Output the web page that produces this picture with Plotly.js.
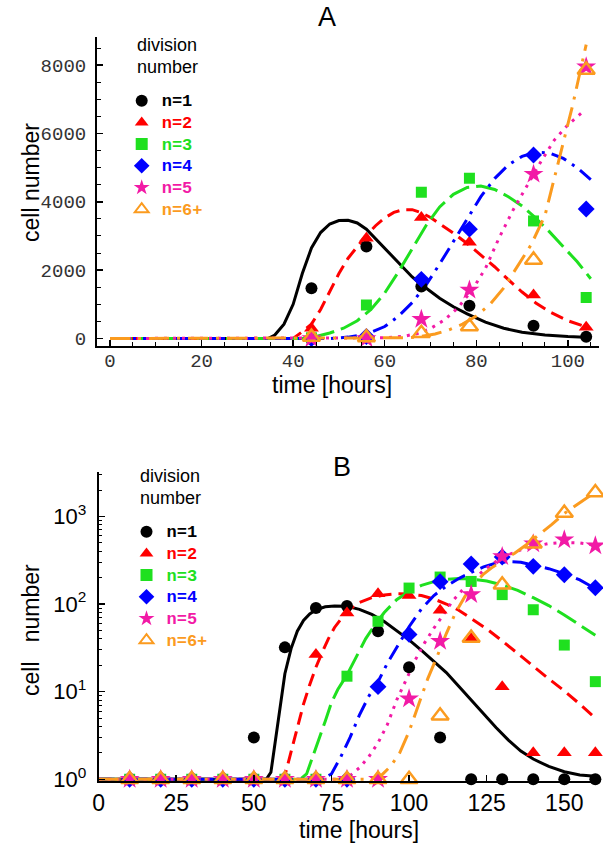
<!DOCTYPE html>
<html>
<head>
<meta charset="utf-8">
<script src="https://cdn.plot.ly/plotly-3.0.1.min.js"></script>
<style>html,body{margin:0;padding:0;background:#fff;}#chart{width:603px;height:845px;}</style>
</head>
<body>
<div id="chart"></div>
<script>
// ---------- Panel A data (linear scale) ----------
const tA = [44, 56, 68, 78.5, 92.5, 104];
const A_n1 = [1470, 2690, 1520, 960, 370, 50];
const A_n2 = [300, 2930, 3540, 2820, 1270, 330];
const A_n3 = [20, 980, 4280, 4690, 3440, 1200];
const A_n4 = [0, 60, 1730, 3200, 5370, 3790];
const A_n5 = [0, 0, 560, 1420, 4810, 7950];
const A_n6 = [40, 30, 150, 350, 2300, 7860];

// Panel A model curves
const mA1_t = [0, 34.5, 36, 38, 40, 42, 44, 46, 48, 50, 52, 54, 56, 58, 60, 62, 64, 66, 68, 70, 72, 75, 78, 82, 86, 90, 95, 100, 105];
const mA1_v = [0, 0, 100, 420, 1000, 1900, 2650, 3100, 3350, 3450, 3460, 3380, 3200, 2920, 2650, 2350, 2080, 1800, 1580, 1380, 1180, 930, 720, 480, 300, 180, 100, 55, 30];
const mA2_t = [0, 40, 42, 44, 46, 48, 50, 52, 54, 56, 58, 60, 62, 64, 66, 68, 70, 72, 75, 78, 81, 84, 87, 90, 93, 96, 100, 105];
const mA2_v = [0, 0, 200, 420, 850, 1380, 1900, 2350, 2700, 3020, 3300, 3530, 3690, 3770, 3770, 3680, 3540, 3360, 3080, 2780, 2440, 2100, 1720, 1360, 1040, 780, 520, 290];
const mA3_t = [0, 42, 45, 48, 51, 54, 57, 60, 63, 66, 69, 72, 75, 78, 81, 84, 87, 90, 93, 96, 99, 102, 105];
const mA3_v = [0, 0, 60, 160, 300, 520, 850, 1330, 1950, 2620, 3300, 3850, 4220, 4420, 4460, 4360, 4150, 3880, 3520, 3120, 2700, 2250, 1750];
const mA4_t = [0, 48, 52, 56, 60, 63, 66, 69, 72, 75, 78, 81, 84, 87, 90, 93, 96, 99, 102, 105];
const mA4_v = [0, 0, 40, 130, 350, 650, 1050, 1560, 2180, 2850, 3520, 4150, 4680, 5080, 5330, 5450, 5430, 5270, 5000, 4650];
const mA5_t = [0, 55, 60, 64, 67, 70, 73, 76, 79, 82, 85, 88, 91, 94, 97, 100, 103];
const mA5_v = [0, 0, 20, 60, 140, 290, 540, 900, 1400, 2050, 2950, 3750, 4450, 5150, 5800, 6250, 6600];
const mA6_t = [0, 60, 65, 68, 71, 74, 77, 80, 83, 86, 89, 92, 95, 98, 101, 104];
const mA6_v = [0, 0, 20, 60, 130, 250, 420, 660, 1000, 1480, 2100, 2750, 3600, 5200, 6800, 8600];

// ---------- Panel B data (log scale) ----------
const tB = [10, 20, 30, 40, 50, 60, 70, 80, 90, 100, 110, 120, 130, 140, 150, 160];
const B_n1 = [1, 1, 1, 1, 3, 32, 90, 95, 49, 19, 3, 1, 1, 1, 1, 1];
const B_n2 = [1, 1, 1, 1, 1, 1, 26.5, 79, 131, 125, 85, 40, 11.4, 2, 2, 2];
const B_n3 = [1, 1, 1, 1, 1, 1, 1, 15, 63.5, 152, 203, 181, 128, 86, 34, 13];
const B_n4 = [1, 1, 1, 1, 1, 1, 1, 1, 11.4, 45, 180, 286, 344, 269, 216, 153];
const B_n5 = [1, 1, 1, 1, 1, 1, 1, 1, 1, 8.3, 37.6, 128, 349, 487, 541, 462];
const B_n6 = [1, 1, 1, 1, 1, 1, 1, 1, 1, 1, 5.3, 41, 166, 487, 1090, 1870];

const mB1_t = [0, 54, 55.5, 57, 58.5, 60, 62, 64, 66, 68, 70, 73, 76, 80, 84, 88, 92, 96, 100, 104, 108, 112, 116, 120, 124, 128, 132, 136, 140, 145, 150, 155, 160];
const mB1_v = [1, 1, 1.2, 2.8, 7.5, 16, 31, 49, 65, 77, 86, 93, 95, 94, 87, 76, 63, 50, 39, 29.5, 22, 16.5, 11.5, 8.1, 5.6, 3.9, 2.8, 2.1, 1.7, 1.4, 1.22, 1.12, 1.08];
const mB2_t = [0, 58, 60, 62, 64, 66, 68, 70, 72, 74, 76, 78, 80, 84, 88, 92, 96, 100, 104, 108, 112, 116, 120, 125, 130, 135, 140, 145, 150, 155, 160];
const mB2_v = [1, 1, 1.1, 2.1, 4, 7.2, 12, 19, 28, 40, 54, 68, 83, 104, 118, 127, 131, 130, 125, 114, 100, 85, 69, 52, 38, 27, 19.5, 14, 10.2, 7.2, 5];
const mB3_t = [0, 65, 67, 69, 71, 73, 75, 77, 80, 83, 86, 89, 92, 96, 100, 104, 108, 112, 116, 120, 125, 130, 135, 140, 145, 150, 155, 160];
const mB3_v = [1, 1, 1.15, 1.8, 2.9, 4.6, 7.5, 10.5, 15.5, 25, 40, 58, 80, 112, 140, 163, 180, 191, 195, 193, 183, 165, 143, 118, 96, 75, 58, 44];
const mB4_t = [0, 72, 75, 78, 81, 84, 87, 90, 93, 96, 100, 104, 108, 112, 116, 120, 124, 128, 132, 136, 140, 145, 150, 155, 160];
const mB4_v = [1, 1, 1.15, 1.8, 3, 5.4, 8.8, 13, 21, 32, 55, 88, 125, 160, 195, 230, 265, 293, 305, 300, 280, 253, 222, 188, 150];
const mB5_t = [0, 78, 81, 84, 87, 90, 93, 96, 99, 102, 105, 108, 111, 114, 117, 120, 124, 128, 132, 136, 140, 145, 150, 155, 160];
const mB5_v = [1, 1, 1.1, 1.35, 1.8, 2.6, 4.2, 8, 13.5, 23, 36, 53, 75, 108, 142, 180, 242, 305, 365, 415, 452, 490, 505, 498, 470];
const mB6_t = [0, 88, 91, 94, 97, 100, 103, 106, 109, 112, 115, 118, 121, 124, 127, 130, 134, 138, 142, 146, 150, 155, 160];
const mB6_v = [1, 1, 1.1, 1.4, 2, 3.5, 7, 14, 25, 46, 80, 122, 170, 220, 265, 310, 380, 480, 620, 810, 1080, 1450, 1900];

// ---------- labels / ticks ----------
const seriesNames = ['n=1', 'n=2', 'n=3', 'n=4', 'n=5', 'n=6+'];
const colors = ['#000000', '#ff0000', '#1fe01f', '#0000ff', '#f21aa6', '#fb9b1f'];
const symbols = ['circle', 'triangle-up', 'square', 'diamond', 'star', 'triangle-up-open'];
const msizes = [12, 13, 11, 13, 15, 15];
const dashes = ['solid', '13px,7px', '22px,7px', '16px,7px,3px,7px', '3px,6px', '20px,8px,3px,8px'];
const A_xtickvals = [0, 20, 40, 60, 80, 100];
const A_ytickvals = [0, 2000, 4000, 6000, 8000];
const B_xtickvals = [0, 25, 50, 75, 100, 125, 150];
const B_ytickvals = [1, 10, 100, 1000];
const B_yticktext = ['10<sup>0</sup>', '10<sup>1</sup>', '10<sup>2</sup>', '10<sup>3</sup>'];
const titleA = 'A', titleB = 'B';
const xTitle = 'time [hours]';
const yTitleA = 'cell number';
const yTitleB = 'cell\u00a0\u00a0\u00a0number';
const legendHead = ['division', 'number'];

const W = 603, H = 845;
const fx = p => p / W;
const fy = p => 1 - p / H;

const markA = [A_n1, A_n2, A_n3, A_n4, A_n5, A_n6];
const curveA = [[mA1_t, mA1_v], [mA2_t, mA2_v], [mA3_t, mA3_v], [mA4_t, mA4_v], [mA5_t, mA5_v], [mA6_t, mA6_v]];
const markB = [B_n1, B_n2, B_n3, B_n4, B_n5, B_n6];
const curveB = [[mB1_t, mB1_v], [mB2_t, mB2_v], [mB3_t, mB3_v], [mB4_t, mB4_v], [mB5_t, mB5_v], [mB6_t, mB6_v]];

const traces = [];
function lineTrace(c, i, xa, ya) {
  return {x: c[0], y: c[1], xaxis: xa, yaxis: ya, type: 'scatter', mode: 'lines',
    line: {color: colors[i], width: 3, dash: dashes[i]}, showlegend: false, hoverinfo: 'skip'};
}
function markTrace(t, v, i, xa, ya, leg) {
  const open = symbols[i].indexOf('open') >= 0;
  return {x: t, y: v, xaxis: xa, yaxis: ya, type: 'scatter', mode: 'markers', cliponaxis: false,
    name: '<span style="font-size:17px;color:' + colors[i] + '"><b>' + seriesNames[i] + '</b></span>',
    legend: leg,
    marker: {symbol: symbols[i], size: msizes[i], color: colors[i],
      line: open ? {color: colors[i], width: 2.5} : {width: 0}}};
}
curveA.forEach((c, i) => traces.push(lineTrace(c, i, 'x', 'y')));
markA.forEach((v, i) => traces.push(markTrace(tA, v, i, 'x', 'y', 'legend')));
curveB.forEach((c, i) => traces.push(lineTrace(c, i, 'x2', 'y2')));
markB.forEach((v, i) => traces.push(markTrace(tB, v, i, 'x2', 'y2', 'legend2')));

const minorLog = [];
for (let d = 1; d <= 1000; d *= 10) for (let k = 2; k <= 9; k++) if (d * k < 3300) minorLog.push(d * k);

const axBase = {showline: true, linecolor: '#000', linewidth: 2, mirror: false, showgrid: false, zeroline: false,
  ticks: 'inside', tickcolor: '#000', tickwidth: 1.5, ticklen: 6, fixedrange: true};

const monoTick = {family: 'Liberation Mono, Courier New, monospace', size: 19, color: '#333'};
const sansTick = {family: 'Liberation Sans, Arial, sans-serif', size: 23, color: '#000'};
const legFont = {family: 'Liberation Mono, Courier New, monospace', size: 14.4, color: '#000'};

const layout = {
  width: W, height: H, margin: {l: 0, r: 0, t: 0, b: 0}, paper_bgcolor: '#fff', plot_bgcolor: '#fff',
  showlegend: true,
  xaxis: Object.assign({}, axBase, {domain: [fx(97), fx(599)], range: [-2.84, 106.8], anchor: 'y',
    tickmode: 'array', tickvals: A_xtickvals, tickfont: monoTick, ticklabelstandoff: -4,
    minor: {ticks: 'inside', dtick: 5, ticklen: 4, tickcolor: '#000', tickwidth: 1}}),
  yaxis: Object.assign({}, axBase, {domain: [fy(346), fy(36.7)], range: [-220, 8832], anchor: 'x',
    tickmode: 'array', tickvals: A_ytickvals, tickfont: monoTick, ticklabelstandoff: 5,
    minor: {ticks: 'inside', dtick: 500, ticklen: 4, tickcolor: '#000', tickwidth: 1}}),
  xaxis2: Object.assign({}, axBase, {domain: [fx(98.6), fx(600)], range: [0, 161.5], anchor: 'y2',
    tickmode: 'array', tickvals: B_xtickvals, tickfont: sansTick, ticklabelstandoff: 0}),
  yaxis2: Object.assign({}, axBase, {domain: [fy(781), fy(471.7)], type: 'log', range: [-0.02, 3.51], anchor: 'x2',
    tickmode: 'array', tickvals: B_ytickvals, ticktext: B_yticktext, tickfont: {family: 'Liberation Sans, Arial, sans-serif', size: 22, color: '#000'},
    ticklabelstandoff: 6,
    minor: {ticks: 'inside', tickmode: 'array', tickvals: minorLog, ticklen: 3, tickcolor: '#000', tickwidth: 1}}),
  legend: {x: fx(121.7), y: fy(84.8), xanchor: 'left', yanchor: 'top', bgcolor: 'rgba(0,0,0,0)', borderwidth: 0,
    font: legFont, itemwidth: 30, itemsizing: 'constant', traceorder: 'normal', tracegroupgap: 0, itemclick: false, itemdoubleclick: false},
  legend2: {x: fx(126.5), y: fy(515.8), xanchor: 'left', yanchor: 'top', bgcolor: 'rgba(0,0,0,0)', borderwidth: 0,
    font: legFont, itemwidth: 30, itemsizing: 'constant', traceorder: 'normal', tracegroupgap: 0, itemclick: false, itemdoubleclick: false},
  annotations: [
    {text: titleA, x: fx(327), y: fy(17), xref: 'paper', yref: 'paper', showarrow: false, xanchor: 'center', yanchor: 'middle',
      font: {family: 'Liberation Sans, Arial, sans-serif', size: 27, color: '#000'}},
    {text: titleB, x: fx(342), y: fy(467), xref: 'paper', yref: 'paper', showarrow: false, xanchor: 'center', yanchor: 'middle',
      font: {family: 'Liberation Sans, Arial, sans-serif', size: 27, color: '#000'}},
    {text: yTitleA, x: fx(31), y: fy(183), xref: 'paper', yref: 'paper', showarrow: false, textangle: -90, xanchor: 'center', yanchor: 'middle',
      font: {family: 'Liberation Sans, Arial, sans-serif', size: 23, color: '#000'}},
    {text: yTitleB, x: fx(31), y: fy(630), xref: 'paper', yref: 'paper', showarrow: false, textangle: -90, xanchor: 'center', yanchor: 'middle',
      font: {family: 'Liberation Sans, Arial, sans-serif', size: 23, color: '#000'}},
    {text: xTitle, x: fx(332), y: fy(385), xref: 'paper', yref: 'paper', showarrow: false, xanchor: 'center', yanchor: 'middle',
      font: {family: 'Liberation Sans, Arial, sans-serif', size: 23, color: '#000'}},
    {text: xTitle, x: fx(359), y: fy(830), xref: 'paper', yref: 'paper', showarrow: false, xanchor: 'center', yanchor: 'middle',
      font: {family: 'Liberation Sans, Arial, sans-serif', size: 23, color: '#000'}},
    {text: legendHead[0], x: fx(135), y: fy(45), xref: 'paper', yref: 'paper', showarrow: false, xanchor: 'left', yanchor: 'middle',
      font: {family: 'Liberation Sans, Arial, sans-serif', size: 18, color: '#000'}},
    {text: legendHead[1], x: fx(135), y: fy(66.7), xref: 'paper', yref: 'paper', showarrow: false, xanchor: 'left', yanchor: 'middle',
      font: {family: 'Liberation Sans, Arial, sans-serif', size: 18, color: '#000'}},
    {text: legendHead[0], x: fx(138), y: fy(476), xref: 'paper', yref: 'paper', showarrow: false, xanchor: 'left', yanchor: 'middle',
      font: {family: 'Liberation Sans, Arial, sans-serif', size: 18, color: '#000'}},
    {text: legendHead[1], x: fx(138), y: fy(497.7), xref: 'paper', yref: 'paper', showarrow: false, xanchor: 'left', yanchor: 'middle',
      font: {family: 'Liberation Sans, Arial, sans-serif', size: 18, color: '#000'}}
  ]
};

Plotly.newPlot('chart', traces, layout, {staticPlot: true, displayModeBar: false});
</script>
</body>
</html>
